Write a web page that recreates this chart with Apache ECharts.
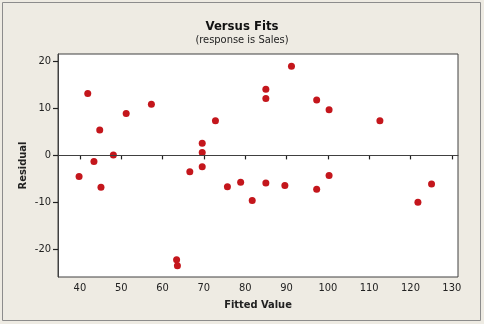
<!DOCTYPE html>
<html>
<head>
<meta charset="utf-8">
<script src="https://cdn.jsdelivr.net/npm/echarts@6/dist/echarts.min.js"></script>
<style>
html,body{margin:0;padding:0;background:#eeebe3;}
#chart{width:484px;height:324px;}
</style>
</head>
<body>
<div id="chart"></div>
<script>
var titleText = 'Versus Fits';
var subtitleText = '(response is Sales)';
var xAxisName = 'Fitted Value';
var yAxisName = 'Residual';
var xTicks = [40, 50, 60, 70, 80, 90, 100, 110, 120, 130];
var yTicks = [-20, -10, 0, 10, 20];
var fittedValues = [41.9, 44.8, 48.1, 51.2, 57.3, 69.6, 69.6, 72.8, 85.0, 85.0, 91.2, 97.3, 100.3, 112.6,
                    43.4, 39.8, 45.1, 66.6, 69.6, 75.7, 78.9, 81.7, 85.0, 89.6, 97.3, 100.3, 121.8, 125.1, 63.4, 63.6];
var residuals = [13.2, 5.4, 0.1, 8.9, 10.9, 2.6, 0.6, 7.4, 14.1, 12.1, 19.0, 11.8, 9.7, 7.4,
                 -1.3, -4.5, -6.8, -3.5, -2.4, -6.7, -5.7, -9.6, -5.9, -6.4, -7.2, -4.3, -10.0, -6.1, -22.2, -23.5];

var points = fittedValues.map(function (x, i) { return [x, residuals[i]]; });
var FONT = "'DejaVu Sans Condensed', 'Liberation Sans', sans-serif";

var chart = echarts.init(document.getElementById('chart'), null, {renderer: 'canvas'});
chart.setOption({
  backgroundColor: '#eeebe3',
  animation: false,
  title: [
    {text: titleText, left: 'center', top: 15,
     textStyle: {fontFamily: FONT, fontSize: 13, fontWeight: 'bold', color: '#111'}},
    {text: subtitleText, left: 'center', top: 30,
     textStyle: {fontFamily: FONT, fontSize: 11, fontWeight: 'normal', color: '#222'}}
  ],
  graphic: [{
    type: 'rect', silent: true,
    shape: {x: 2.5, y: 2.5, width: 478, height: 318},
    style: {fill: null, stroke: '#8c8c8c', lineWidth: 1}
  }],
  grid: {left: 58, right: 26, top: 54, bottom: 47, show: true,
         backgroundColor: '#ffffff', borderColor: '#404040', borderWidth: 1},
  xAxis: {
    type: 'value', min: 34.7, max: 131.5,
    name: xAxisName, nameLocation: 'middle', nameGap: 23,
    nameTextStyle: {fontFamily: FONT, fontSize: 11, fontWeight: 'bold', color: '#222'},
    axisLine: {show: true, lineStyle: {color: '#404040', width: 1}},
    axisTick: {show: true, length: 4, customValues: xTicks, lineStyle: {color: '#202020', width: 1.2}},
    axisLabel: {customValues: xTicks, margin: 6, fontFamily: FONT, fontSize: 11, color: '#222'},
    splitLine: {show: false}
  },
  yAxis: {
    type: 'value', min: -25.9, max: 21.6,
    name: yAxisName, nameLocation: 'middle', nameGap: 29, nameRotate: 90, nameMoveOverlap: false,
    nameTextStyle: {fontFamily: FONT, fontSize: 11, fontWeight: 'bold', color: '#222'},
    axisLine: {show: true, lineStyle: {color: '#404040', width: 1}},
    axisTick: {show: true, inside: false, length: 5, customValues: yTicks, lineStyle: {color: '#202020', width: 1.2}},
    axisLabel: {customValues: yTicks, margin: 7, fontFamily: FONT, fontSize: 11, color: '#222'},
    splitLine: {show: false}
  },
  series: [{
    type: 'scatter',
    data: points,
    symbol: 'circle',
    symbolSize: 7,
    itemStyle: {color: '#c4161c', opacity: 1},
    markLine: {
      silent: true, symbol: ['none', 'none'],
      label: {show: false},
      lineStyle: {color: '#404040', width: 1, type: 'solid'},
      data: [{yAxis: 0}]
    }
  }]
});
</script>
</body>
</html>
